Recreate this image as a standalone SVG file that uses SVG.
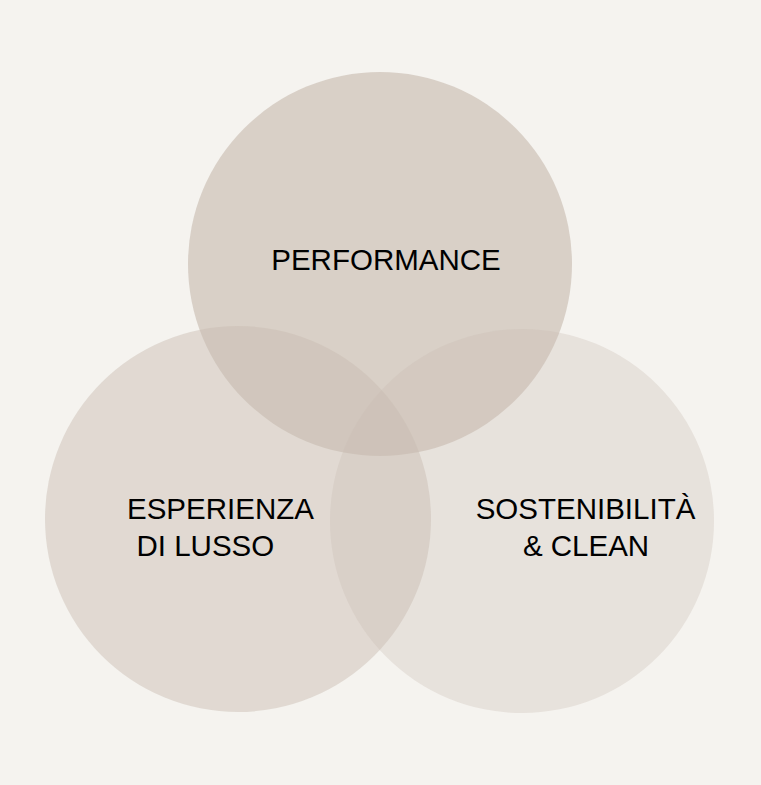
<svg xmlns="http://www.w3.org/2000/svg" width="761" height="785" viewBox="0 0 761 785">
<style>
.c{fill:#c9bcb0}
.t{font-family:"Liberation Sans",Arial,sans-serif;font-size:29.5px;fill:#000}
</style>
<rect width="761" height="785" fill="#f5f3ef"/>
<g id="performance">
<circle class="c" cx="380" cy="264" r="192" fill-opacity="0.64"/>
<text class="t" x="386" y="269.5" text-anchor="middle">PERFORMANCE</text>
</g>
<g id="esperienza">
<circle class="c" cx="238" cy="519" r="193" fill-opacity="0.46"/>
<text class="t" x="127" y="519">ESPERIENZA</text>
<text class="t" x="136.5" y="556">DI LUSSO</text>
</g>
<g id="sostenibilita">
<circle class="c" cx="522" cy="521" r="192" fill-opacity="0.31"/>
<text class="t" x="585.5" y="518.5" text-anchor="middle">SOSTENIBILITÀ</text>
<text class="t" x="586" y="556" text-anchor="middle">&amp; CLEAN</text>
</g>
<g id="connectors"/>
</svg>
